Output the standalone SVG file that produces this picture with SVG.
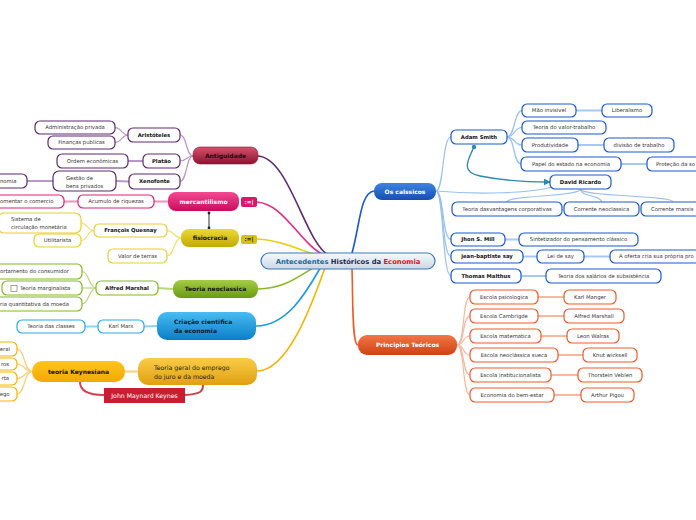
<svg xmlns="http://www.w3.org/2000/svg" width="696" height="520" viewBox="0 0 696 520">
<defs>
<linearGradient id="gRed" x1="0" y1="0" x2="0" y2="1"><stop offset="0" stop-color="#d9506a"/><stop offset="1" stop-color="#8e1232"/></linearGradient>
<linearGradient id="gPink" x1="0" y1="0" x2="0" y2="1"><stop offset="0" stop-color="#f34a92"/><stop offset="1" stop-color="#c80c5c"/></linearGradient>
<linearGradient id="gYel" x1="0" y1="0" x2="0" y2="1"><stop offset="0" stop-color="#ecd83a"/><stop offset="1" stop-color="#c2aa00"/></linearGradient>
<linearGradient id="gGrn" x1="0" y1="0" x2="0" y2="1"><stop offset="0" stop-color="#a6cc46"/><stop offset="1" stop-color="#6a9a12"/></linearGradient>
<linearGradient id="gLB" x1="0" y1="0" x2="0" y2="1"><stop offset="0" stop-color="#48bcf2"/><stop offset="1" stop-color="#0a7fc6"/></linearGradient>
<linearGradient id="gGold" x1="0" y1="0" x2="0" y2="1"><stop offset="0" stop-color="#f9cc48"/><stop offset="1" stop-color="#e0a010"/></linearGradient>
<linearGradient id="gKey" x1="0" y1="0" x2="0" y2="1"><stop offset="0" stop-color="#ffc61e"/><stop offset="1" stop-color="#f2a800"/></linearGradient>
<linearGradient id="gBlue" x1="0" y1="0" x2="0" y2="1"><stop offset="0" stop-color="#3e84e2"/><stop offset="1" stop-color="#1450b0"/></linearGradient>
<linearGradient id="gOr" x1="0" y1="0" x2="0" y2="1"><stop offset="0" stop-color="#f27646"/><stop offset="1" stop-color="#d04212"/></linearGradient>
<linearGradient id="gCen" x1="0" y1="0" x2="0" y2="1"><stop offset="0" stop-color="#f6f9fc"/><stop offset="1" stop-color="#cbd8e6"/></linearGradient>
<marker id="arrT" viewBox="0 0 10 10" refX="9" refY="5" markerWidth="7" markerHeight="7" orient="auto" markerUnits="userSpaceOnUse"><path d="M0,0 L10,5 L0,10 z" fill="#2a8ab0"/></marker>
</defs>
<style>
.n{fill:#fff;stroke-width:1.2}
.pu{stroke:#5c2a72}.pk{stroke:#e0207a}.ye{stroke:#e8d030}.gr{stroke:#86b828}.lb{stroke:#2aa8e8}.go{stroke:#f5b400}.bl{stroke:#1a5ad0}.or{stroke:#f05a28}
.t{font-family:"DejaVu Sans",Verdana,sans-serif;font-size:5.3px;fill:#333;text-anchor:middle}
.l{text-anchor:start}
.e{text-anchor:end}
.b{font-weight:bold;fill:#111}
.m{font-family:"DejaVu Sans",Verdana,sans-serif;font-size:6px;font-weight:bold;text-anchor:middle}
.c{fill:none;stroke-width:1.2}
.c2{fill:none;stroke-width:2}
.mc{fill:none;stroke-width:1.6}
</style>

<g id="connectors">
<!-- main -->
<path class="mc" stroke="#5c2a72" d="M330 256 C305 245 290 158 258 156"/>
<path class="mc" stroke="#e82a7e" d="M326 256 C300 245 285 204 257 202"/>
<path class="mc" stroke="#e8d020" d="M322 257 C300 250 280 240 257 239"/>
<path class="mc" stroke="#8ab82a" d="M318 265 C300 275 285 289 258 289"/>
<path class="mc" stroke="#1a9ae0" d="M322 265 C310 285 290 326 256 326"/>
<path class="mc" stroke="#f5b400" d="M326 265 C315 295 290 371 257 371"/>
<path class="mc" stroke="#1a5ad0" d="M352 253 C360 225 360 193 374 191"/>
<path class="mc" stroke="#f05a28" d="M352 269 C353 300 352 345 358 345"/>
<!-- antiguidade -->
<g stroke="#b898c8">
<path class="c" d="M193 156 C186 156 187 135 180 135"/>
<path class="c" d="M193 156 C186 156 187 161 180 161"/>
<path class="c" d="M193 156 C186 156 187 181.5 180 181.5"/>
<path class="c" d="M128 135 C121 135 122 127.5 115 127.5"/>
<path class="c" d="M128 135 C121 135 122 142.5 115 142.5"/>
<path class="c2" d="M143 161 L128 161"/>
<path class="c2" d="M129 181.5 L116 181"/>
<path class="c2" d="M53 181 L27 181"/>
</g>
<g stroke="#f090b8">
<path class="c2" d="M168 201.5 L154 201.5"/>
<path class="c2" d="M78 201.5 L64 201.5"/>
</g>
<g stroke="#f0e070">
<path class="c" d="M181 238 C174 238 174 230.5 167 230.5"/>
<path class="c" d="M181 238 C174 238 174 256 167 256"/>
<path class="c" d="M94 230.5 C87 230.5 88 223 81 223"/>
<path class="c" d="M94 230.5 C87 230.5 88 240.5 81 240.5"/>
</g>
<g stroke="#b8d878">
<path class="c2" d="M173 289 L158 288"/>
<path class="c" d="M96 288 C89 288 89 271.5 82 271.5"/>
<path class="c" d="M96 288 L82 288"/>
<path class="c" d="M96 288 C89 288 89 304 82 304"/>
</g>
<g stroke="#90d0f0">
<path class="c2" d="M157 326 L144 326.5"/>
<path class="c2" d="M98 326.5 L85 326.5"/>
</g>
<g stroke="#f8d070">
<path class="c2" d="M138 371.5 L125 371.5"/>
<path class="c" d="M32 371.5 C24 371.5 25 349 17 349"/>
<path class="c" d="M32 371.5 C24 371.5 25 364 17 364"/>
<path class="c" d="M32 371.5 C24 371.5 25 378.5 17 378.5"/>
<path class="c" d="M32 371.5 C24 371.5 25 394 17 394"/>
</g>
<path fill="none" stroke="#d04050" stroke-width="2" d="M80 382 C80 392 90 395 104 395"/>
<path fill="none" stroke="#d04050" stroke-width="2" d="M185 395 C200 394 203 392 203 385"/>
<!-- mercantilismo - fisiocracia -->
<line x1="209" y1="213" x2="209" y2="228" stroke="#333" stroke-width="1"/>
<circle cx="209" cy="213" r="1.4" fill="#222"/>
<circle cx="209" cy="228" r="1.4" fill="#222"/>
<!-- classicos -->
<g stroke="#9ac0ec">
<path class="c" d="M436 191 C444 191 442 137 451 137"/>
<path class="c" d="M436 191 C480 195 530 193 552 187"/>
<path class="c" d="M436 191 C444 191 442 239.5 451 239.5"/>
<path class="c" d="M436 191 C444 191 442 256.5 451 256.5"/>
<path class="c" d="M436 191 C444 191 442 276 451 276"/>
<path class="c" d="M507 137 C515 137 514 110.5 522 110.5"/>
<path class="c" d="M507 137 C515 137 514 127.5 522 127.5"/>
<path class="c" d="M507 137 C515 137 514 145 522 145"/>
<path class="c" d="M507 137 C515 137 513 164 521 164"/>
<path class="c" d="M580.5 189 C580.5 197 507 195 507 202"/>
<path class="c" d="M580.5 189 C580.5 197 601.5 195 601.5 202"/>
<path class="c" d="M580.5 189 C580.5 197 673 195 673 202"/>
</g>
<g stroke="#a8c8f0">
<path class="c2" d="M576 110.5 L602 110.5"/>
<path class="c2" d="M578 145 L604 145"/>
<path class="c2" d="M621 164 L647 164"/>
<path class="c2" d="M505 239.5 L519 239.5"/>
<path class="c2" d="M523 256.5 L537 256.5"/>
<path class="c2" d="M584 256.5 L610 256.5"/>
<path class="c2" d="M521 276 L546 276"/>
</g>
<circle cx="474" cy="147" r="2.2" fill="#2a8ab0"/>
<path fill="none" stroke="#2a8ab0" stroke-width="1.3" marker-end="url(#arrT)" d="M474 147 C468 160 460 172 480 176 C500 180 530 182 550 182"/>
<!-- principios -->
<g stroke="#f8b8a0">
<path class="c" d="M457 345 C465 345 462 297 470 297"/>
<path class="c" d="M457 345 C465 345 462 316 470 316"/>
<path class="c" d="M457 345 C465 345 462 336 470 336"/>
<path class="c" d="M457 345 C465 345 462 355 470 355"/>
<path class="c" d="M457 345 C465 345 462 375 470 375"/>
<path class="c" d="M457 345 C465 345 462 395 470 395"/>
<path class="c2" d="M538 297 L564 297"/>
<path class="c2" d="M538 316 L564 316"/>
<path class="c2" d="M541 336 L567 336"/>
<path class="c2" d="M558 355 L583 355"/>
<path class="c2" d="M551 375 L578 375"/>
<path class="c2" d="M554 395 L581 395"/>
</g>
</g>

<g id="center">
<rect x="261" y="253" width="174" height="16" rx="8" fill="url(#gCen)" stroke="#3a78b8" stroke-width="1.2"/>
<text x="348" y="263.5" font-family="DejaVu Sans,Verdana,sans-serif" font-size="6.8" font-weight="bold" text-anchor="middle"><tspan fill="#1a6aa0">Antecedentes</tspan> <tspan fill="#1a2a50">Históricos da</tspan> <tspan fill="#e01020">Economia</tspan></text>
</g>

<!-- Antiguidade branch -->
<g id="antiguidade"><rect x="193" y="147" width="65" height="17" rx="7" fill="url(#gRed)" stroke="#8e1232" stroke-width="0.6"/><text class="m" x="225.5" y="157.8" fill="#111">Antiguidade</text></g>
<g id="aristoteles"><rect class="n pu" x="128" y="128" width="52" height="14" rx="5"/><text class="t b" x="154" y="137">Aristóteles</text></g>
<g id="adm"><rect class="n pu" x="35" y="121" width="80" height="13" rx="5"/><text class="t" x="75" y="129.4">Administração privada</text></g>
<g id="financas"><rect class="n pu" x="48" y="136" width="67" height="13" rx="5"/><text class="t" x="81.5" y="144.4">Finanças publicas</text></g>
<g id="platao"><rect class="n pu" x="143" y="154" width="37" height="14" rx="5"/><text class="t b" x="161.5" y="163">Platão</text></g>
<g id="ordem"><rect class="n pu" x="57" y="154" width="71" height="14" rx="5"/><text class="t" x="92.5" y="163">Ordem econômicas</text></g>
<g id="xenofonte"><rect class="n pu" x="129" y="174" width="51" height="15" rx="5"/><text class="t b" x="154.5" y="183.4">Xenofonte</text></g>
<g id="gestao"><rect class="n pu" x="53" y="171" width="63" height="20" rx="6"/><text class="t l" x="66" y="180">Gestão de</text><text class="t l" x="66" y="187.5">bens privados</text></g>
<g id="economia"><rect class="n pu" x="-10" y="174" width="37" height="14" rx="5"/><text class="t l" x="0" y="183">nomia</text></g>

<!-- mercantilismo -->
<g id="mercantilismo"><rect x="168" y="192" width="71" height="19" rx="8" fill="url(#gPink)"/><text class="m" x="203.5" y="203.6" fill="#fff">mercantilismo</text></g>
<g id="tag-merc"><rect x="241" y="197" width="16" height="10" rx="2" fill="#d8186c"/><text x="249" y="203.8" font-family="DejaVu Sans,sans-serif" font-size="5.5" font-weight="bold" fill="#fff" text-anchor="middle">:=|</text></g>
<g id="acumulo"><rect class="n pk" x="78" y="195" width="76" height="13" rx="5"/><text class="t" x="116" y="203.4">Acumulo de riquezas</text></g>
<g id="comercio"><rect class="n pk" x="-10" y="195" width="74" height="13" rx="5"/><text class="t l" x="0" y="203.4">omentar o comercio</text></g>

<!-- fisiocracia -->
<g id="fisiocracia"><rect x="181" y="229" width="58" height="18" rx="8" fill="url(#gYel)"/><text class="m" x="210" y="240.2" fill="#111">fisiocracia</text></g>
<g id="tag-fisio"><rect x="241" y="235" width="16" height="9" rx="2" fill="#d8c010"/><text x="249" y="241.4" font-family="DejaVu Sans,sans-serif" font-size="5.5" font-weight="bold" fill="#111" text-anchor="middle">:=|</text></g>
<g id="quesnay"><rect class="n ye" x="94" y="224" width="73" height="13" rx="5"/><text class="t b" x="130.5" y="232.4">François Quesnay</text></g>
<g id="sistema"><rect class="n ye" x="-2" y="213" width="83" height="20" rx="6"/><text class="t l" x="11" y="221">Sistema de</text><text class="t l" x="11" y="228.6">circulação monetária</text></g>
<g id="utilitarista"><rect class="n ye" x="34" y="234" width="47" height="13" rx="5"/><text class="t" x="57.5" y="242.4">Utilitarista</text></g>
<g id="valor-terras"><rect class="n ye" x="108" y="249" width="59" height="14" rx="5"/><text class="t" x="137.5" y="257.9">Valor de terras</text></g>

<!-- neoclassica -->
<g id="neoclassica"><rect x="173" y="280" width="85" height="18" rx="8" fill="url(#gGrn)"/><text class="m" x="215.5" y="291.2" fill="#111">Teoria neoclassica</text></g>
<g id="marshal"><rect class="n gr" x="96" y="281" width="62" height="14" rx="5"/><text class="t b" x="127" y="289.9">Alfred Marshal</text></g>
<g id="consumidor"><rect class="n gr" x="-10" y="264" width="92" height="15" rx="5"/><text class="t l" x="0" y="273.4">ortamento do consumidor</text></g>
<g id="marginalista"><rect class="n gr" x="2" y="281" width="80" height="14" rx="5"/><rect x="11" y="285.5" width="6" height="6" fill="#fff" stroke="#666" stroke-width="0.6"/><text class="t l" x="20" y="289.9">Teoria marginalista</text></g>
<g id="quantitativa"><rect class="n gr" x="-10" y="297" width="92" height="14" rx="5"/><text class="t l" x="0" y="305.9">ria quantitativa da moeda</text></g>

<!-- criacao -->
<g id="criacao"><rect x="157" y="312" width="99" height="28" rx="10" fill="url(#gLB)"/><text class="m" x="174" y="324.2" fill="#0e1a30" text-anchor="start" style="text-anchor:start">Criação cientifica</text><text class="m" x="174" y="333.2" fill="#0e1a30" style="text-anchor:start">da economia</text></g>
<g id="marx"><rect class="n lb" x="98" y="320" width="46" height="13" rx="5"/><text class="t" x="121" y="328.4">Karl Marx</text></g>
<g id="classes"><rect class="n lb" x="17" y="320" width="68" height="13" rx="5"/><text class="t" x="51" y="328.4">Teoria das classes</text></g>

<!-- keynes -->
<g id="teoria-geral"><rect x="138" y="358" width="119" height="27" rx="10" fill="url(#gGold)"/><text x="154" y="370" font-family="DejaVu Sans,Verdana,sans-serif" font-size="6.2" fill="#222">Teoria geral do emprego</text><text x="154" y="379" font-family="DejaVu Sans,Verdana,sans-serif" font-size="6.2" fill="#222">do juro e da moeda</text></g>
<g id="keynesiana"><rect x="32" y="361" width="93" height="21" rx="10" fill="url(#gKey)"/><text class="m" x="78.5" y="373.6" fill="#111" font-size="6.3">teoria Keynesiana</text></g>
<g id="k1"><rect class="n go" x="-10" y="342" width="27" height="14" rx="5"/><text class="t e" x="10" y="350.9">eral</text></g>
<g id="k2"><rect class="n go" x="-10" y="358" width="27" height="12" rx="5"/><text class="t e" x="9" y="365.9">ros</text></g>
<g id="k3"><rect class="n go" x="-10" y="372" width="27" height="13" rx="5"/><text class="t e" x="9" y="380.4">rta</text></g>
<g id="k4"><rect class="n go" x="-10" y="387" width="27" height="14" rx="5"/><text class="t e" x="9.5" y="395.9">ego</text></g>
<g id="jmk"><rect x="104" y="388" width="81" height="15" fill="#c81e30"/><text x="144.5" y="397.6" font-family="DejaVu Sans,Verdana,sans-serif" font-size="6.2" fill="#fff" text-anchor="middle">John Maynard Keynes</text></g>

<!-- classicos -->
<g id="classicos"><rect x="374" y="183" width="62" height="17" rx="8" fill="url(#gBlue)"/><text class="m" x="405" y="193.7" fill="#fff">Os calssicos</text></g>
<g id="adam"><rect class="n bl" x="451" y="130" width="56" height="14" rx="5"/><text class="t b" x="479" y="138.9">Adam Smith</text></g>
<g id="mao"><rect class="n bl" x="522" y="104" width="54" height="13" rx="5"/><text class="t" x="549" y="112.4">Mão invisível</text></g>
<g id="liberalismo"><rect class="n bl" x="602" y="104" width="50" height="13" rx="5"/><text class="t" x="627" y="112.4">Liberalismo</text></g>
<g id="valor-trabalho"><rect class="n bl" x="522" y="121" width="84" height="13" rx="5"/><text class="t" x="564" y="129.4">Teoria do valor-trabalho</text></g>
<g id="produtividade"><rect class="n bl" x="522" y="138" width="56" height="14" rx="5"/><text class="t" x="550" y="146.9">Produtividade</text></g>
<g id="divisao"><rect class="n bl" x="604" y="138" width="70" height="14" rx="5"/><text class="t" x="639" y="146.9">divisão de trabalho</text></g>
<g id="papel"><rect class="n bl" x="521" y="157" width="100" height="14" rx="5"/><text class="t" x="571" y="165.9">Papel do estado na economia</text></g>
<g id="protecao"><rect class="n bl" x="647" y="157" width="60" height="14" rx="5"/><text class="t l" x="656" y="165.9">Proteção da so</text></g>
<g id="ricardo"><rect class="n bl" x="550" y="175" width="61" height="14" rx="5"/><text class="t b" x="580.5" y="183.9">David Ricardo</text></g>
<g id="vantagens"><rect class="n bl" x="452" y="202" width="110" height="14" rx="5"/><text class="t" x="507" y="210.9">Teoria dasvantagens corporativas</text></g>
<g id="corr-neo"><rect class="n bl" x="564" y="202" width="75" height="14" rx="5"/><text class="t" x="601.5" y="210.9">Corrente neoclassica</text></g>
<g id="corr-marx"><rect class="n bl" x="641" y="202" width="65" height="14" rx="5"/><text class="t l" x="651" y="210.9">Corrente marxis</text></g>
<g id="mill"><rect class="n bl" x="451" y="233" width="54" height="13" rx="5"/><text class="t b" x="478" y="241.4">Jhon S. Mill</text></g>
<g id="sintetizador"><rect class="n bl" x="519" y="233" width="119" height="13" rx="5"/><text class="t" x="578.5" y="241.4">Sintetizador do pensamento clássico</text></g>
<g id="say"><rect class="n bl" x="451" y="250" width="72" height="13" rx="5"/><text class="t b" x="487" y="258.4">jean-baptiste say</text></g>
<g id="lei-say"><rect class="n bl" x="537" y="250" width="47" height="13" rx="5"/><text class="t" x="560.5" y="258.4">Lei de say</text></g>
<g id="oferta"><rect class="n bl" x="610" y="250" width="95" height="13" rx="5"/><text class="t l" x="619" y="258.4">A oferta cria sua própria pro</text></g>
<g id="malthus"><rect class="n bl" x="451" y="269" width="70" height="14" rx="5"/><text class="t b" x="486" y="277.9">Thomas Malthus</text></g>
<g id="salarios"><rect class="n bl" x="546" y="269" width="115" height="14" rx="5"/><text class="t" x="603.5" y="277.9">Teoria dos salários de subsistência</text></g>

<!-- principios -->
<g id="principios"><rect x="358" y="335" width="99" height="20" rx="9" fill="url(#gOr)"/><text class="m" x="407.5" y="347.3" fill="#fff" font-size="6.3">Principios Teóricos</text></g>
<g id="psicologica"><rect class="n or" x="470" y="290" width="68" height="14" rx="5"/><text class="t" x="504" y="298.9">Escola psicologica</text></g>
<g id="manger"><rect class="n or" x="564" y="290" width="52" height="14" rx="5"/><text class="t" x="590" y="298.9">Karl Manger</text></g>
<g id="cambrigde"><rect class="n or" x="470" y="309" width="68" height="14" rx="5"/><text class="t" x="504" y="317.9">Escola Cambrigde</text></g>
<g id="marshall"><rect class="n or" x="564" y="309" width="60" height="14" rx="5"/><text class="t" x="594" y="317.9">Alfred Marshall</text></g>
<g id="matematica"><rect class="n or" x="470" y="329" width="71" height="14" rx="5"/><text class="t" x="505.5" y="337.9">Escola matematica</text></g>
<g id="walras"><rect class="n or" x="567" y="329" width="52" height="14" rx="5"/><text class="t" x="593" y="337.9">Leon Walras</text></g>
<g id="sueca"><rect class="n or" x="470" y="348" width="88" height="14" rx="5"/><text class="t" x="514" y="356.9">Escola neoclássica sueca</text></g>
<g id="wicksell"><rect class="n or" x="583" y="348" width="54" height="14" rx="5"/><text class="t" x="610" y="356.9">Knut wicksell</text></g>
<g id="institucionalista"><rect class="n or" x="470" y="368" width="81" height="14" rx="5"/><text class="t" x="510.5" y="376.9">Escola institucionalista</text></g>
<g id="veblen"><rect class="n or" x="578" y="368" width="64" height="14" rx="5"/><text class="t" x="610" y="376.9">Thorstein Veblen</text></g>
<g id="bem-estar"><rect class="n or" x="470" y="388" width="84" height="14" rx="5"/><text class="t" x="512" y="396.9">Economia do bem-estar</text></g>
<g id="pigou"><rect class="n or" x="581" y="388" width="53" height="14" rx="5"/><text class="t" x="607.5" y="396.9">Arthur Pigou</text></g>
</svg>
